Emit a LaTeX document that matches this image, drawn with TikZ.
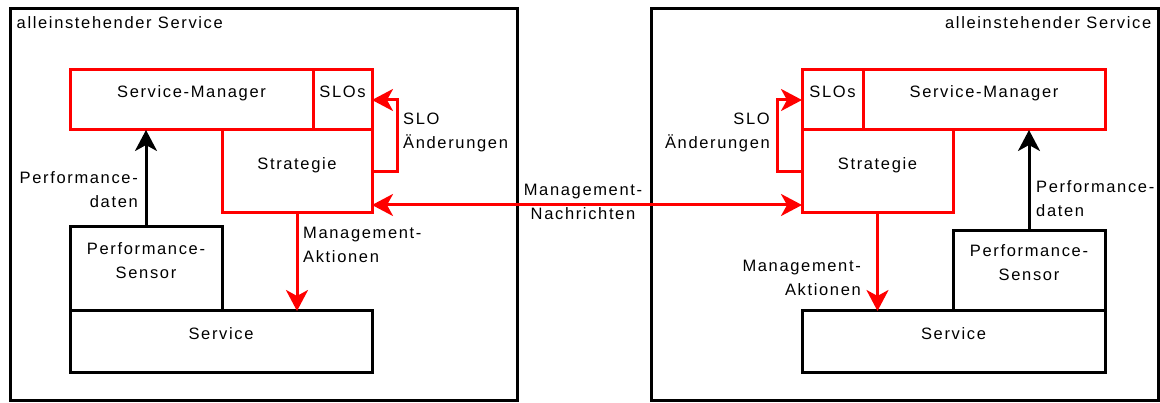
\documentclass[tikz,border=0pt]{standalone}
\usepackage{fontspec}
\setmainfont{Liberation Sans}
\newfontfamily\lblfont[LetterSpace=10]{Liberation Sans}
\usepackage{tikz}
\usetikzlibrary{arrows.meta,positioning}
\tikzset{
  % outer service frames
  frame/.style={draw=black,line width=3pt,inner sep=0pt,outer sep=0pt,anchor=north west},
  % component boxes
  comp/.style={line width=3pt,inner sep=0pt,outer sep=0pt,anchor=north west,align=center,
    font=\lblfont\fontsize{16.5}{24}\selectfont,text height=12pt,text depth=16.5pt},
  twoline/.style={text height=33pt,text depth=14.6pt},
  mgr/.style={comp,draw=red},
  part/.style={comp,draw=black},
  % free labels
  txt/.style={inner sep=0pt,font=\lblfont\fontsize{16.5}{24}\selectfont},
  % flows
  dataflow/.style={line width=3pt,black,-{Stealth[length=21pt,width=22pt,inset=6pt]}},
  ctrlflow/.style={line width=3pt,red,-{Stealth[length=21pt,width=22pt,inset=6pt]}},
  ctrlflowbi/.style={line width=3pt,red,
    {Stealth[length=21pt,width=22pt,inset=6pt]}-{Stealth[length=21pt,width=22pt,inset=6pt]}},
}

\begin{document}
\begin{tikzpicture}[x=1pt,y=-1pt]
\useasboundingbox (0,0) rectangle (1160,403);

%% ---- left service ----
\node[frame,minimum width=507pt,minimum height=392pt] (frameL) at (10,9) {};
\node[txt,anchor=west] (titleL) at (16.5,23) {alleinstehender Service};

\node[mgr,minimum width=243pt,minimum height=60pt] (smL) at (70,70) {Service-Manager};
\node[mgr,minimum width=59pt,minimum height=60pt] (sloL) at (smL.north east) {SLOs};
\node[mgr,minimum width=150pt,minimum height=83pt,anchor=north east] (strL) at (sloL.south east) {Strategie};
\node[part,twoline,minimum width=152pt,minimum height=84pt] (psL) at (70,227) {Performance-\\Sensor};
\node[part,minimum width=302pt,minimum height=62pt] (svL) at (psL.south west) {Service};

\draw[dataflow] (psL.north) -- (psL.north |- smL.south);
\draw[ctrlflow] (strL.south) -- (strL.south |- svL.north);
\draw[ctrlflow] (strL.east) -- ++(25,0) |- (sloL.east);

\node[txt,anchor=east,align=right] (perfL) at (138,189.5) {Performance-\\daten};
\node[txt,anchor=west,align=left] (slochL) at (403,132) {SLO\\Änderungen};
\node[txt,anchor=west,align=left] (actL) at (303,244.5) {Management-\\Aktionen};

%% ---- right service ----
\node[frame,minimum width=507pt,minimum height=392pt] (frameR) at (651,9) {};
\node[txt,anchor=east] (titleR) at (1151.5,23) {alleinstehender Service};

\node[mgr,minimum width=61pt,minimum height=60pt] (sloR) at (802,70) {SLOs};
\node[mgr,minimum width=242pt,minimum height=60pt] (smR) at (sloR.north east) {Service-Manager};
\node[mgr,minimum width=151pt,minimum height=83pt] (strR) at (sloR.south west) {Strategie};
\node[part,twoline,minimum width=152pt,minimum height=80pt] (psR) at (953,231) {Performance-\\Sensor};
\node[part,minimum width=303pt,minimum height=62pt] (svR) at (strR.south west |- psR.south) {Service};

\draw[dataflow] (psR.north) -- (psR.north |- smR.south);
\draw[ctrlflow] (strR.south) -- (strR.south |- svR.north);
\draw[ctrlflow] (strR.west) -- ++(-25,0) |- (sloR.west);

\node[txt,anchor=west,align=left] (perfR) at (1036,198.5) {Performance-\\daten};
\node[txt,anchor=east,align=right] (slochR) at (770,132) {SLO\\Änderungen};
\node[txt,anchor=east,align=right] (actR) at (861,277.5) {Management-\\Aktionen};

%% ---- messages between the managers ----
\draw[ctrlflowbi] ([yshift=8pt]strL.south east) -- ([yshift=8pt]strR.south west);
\node[txt,align=center] (msg) at (583,201.5) {Management-\\Nachrichten};
\end{tikzpicture}
\end{document}
